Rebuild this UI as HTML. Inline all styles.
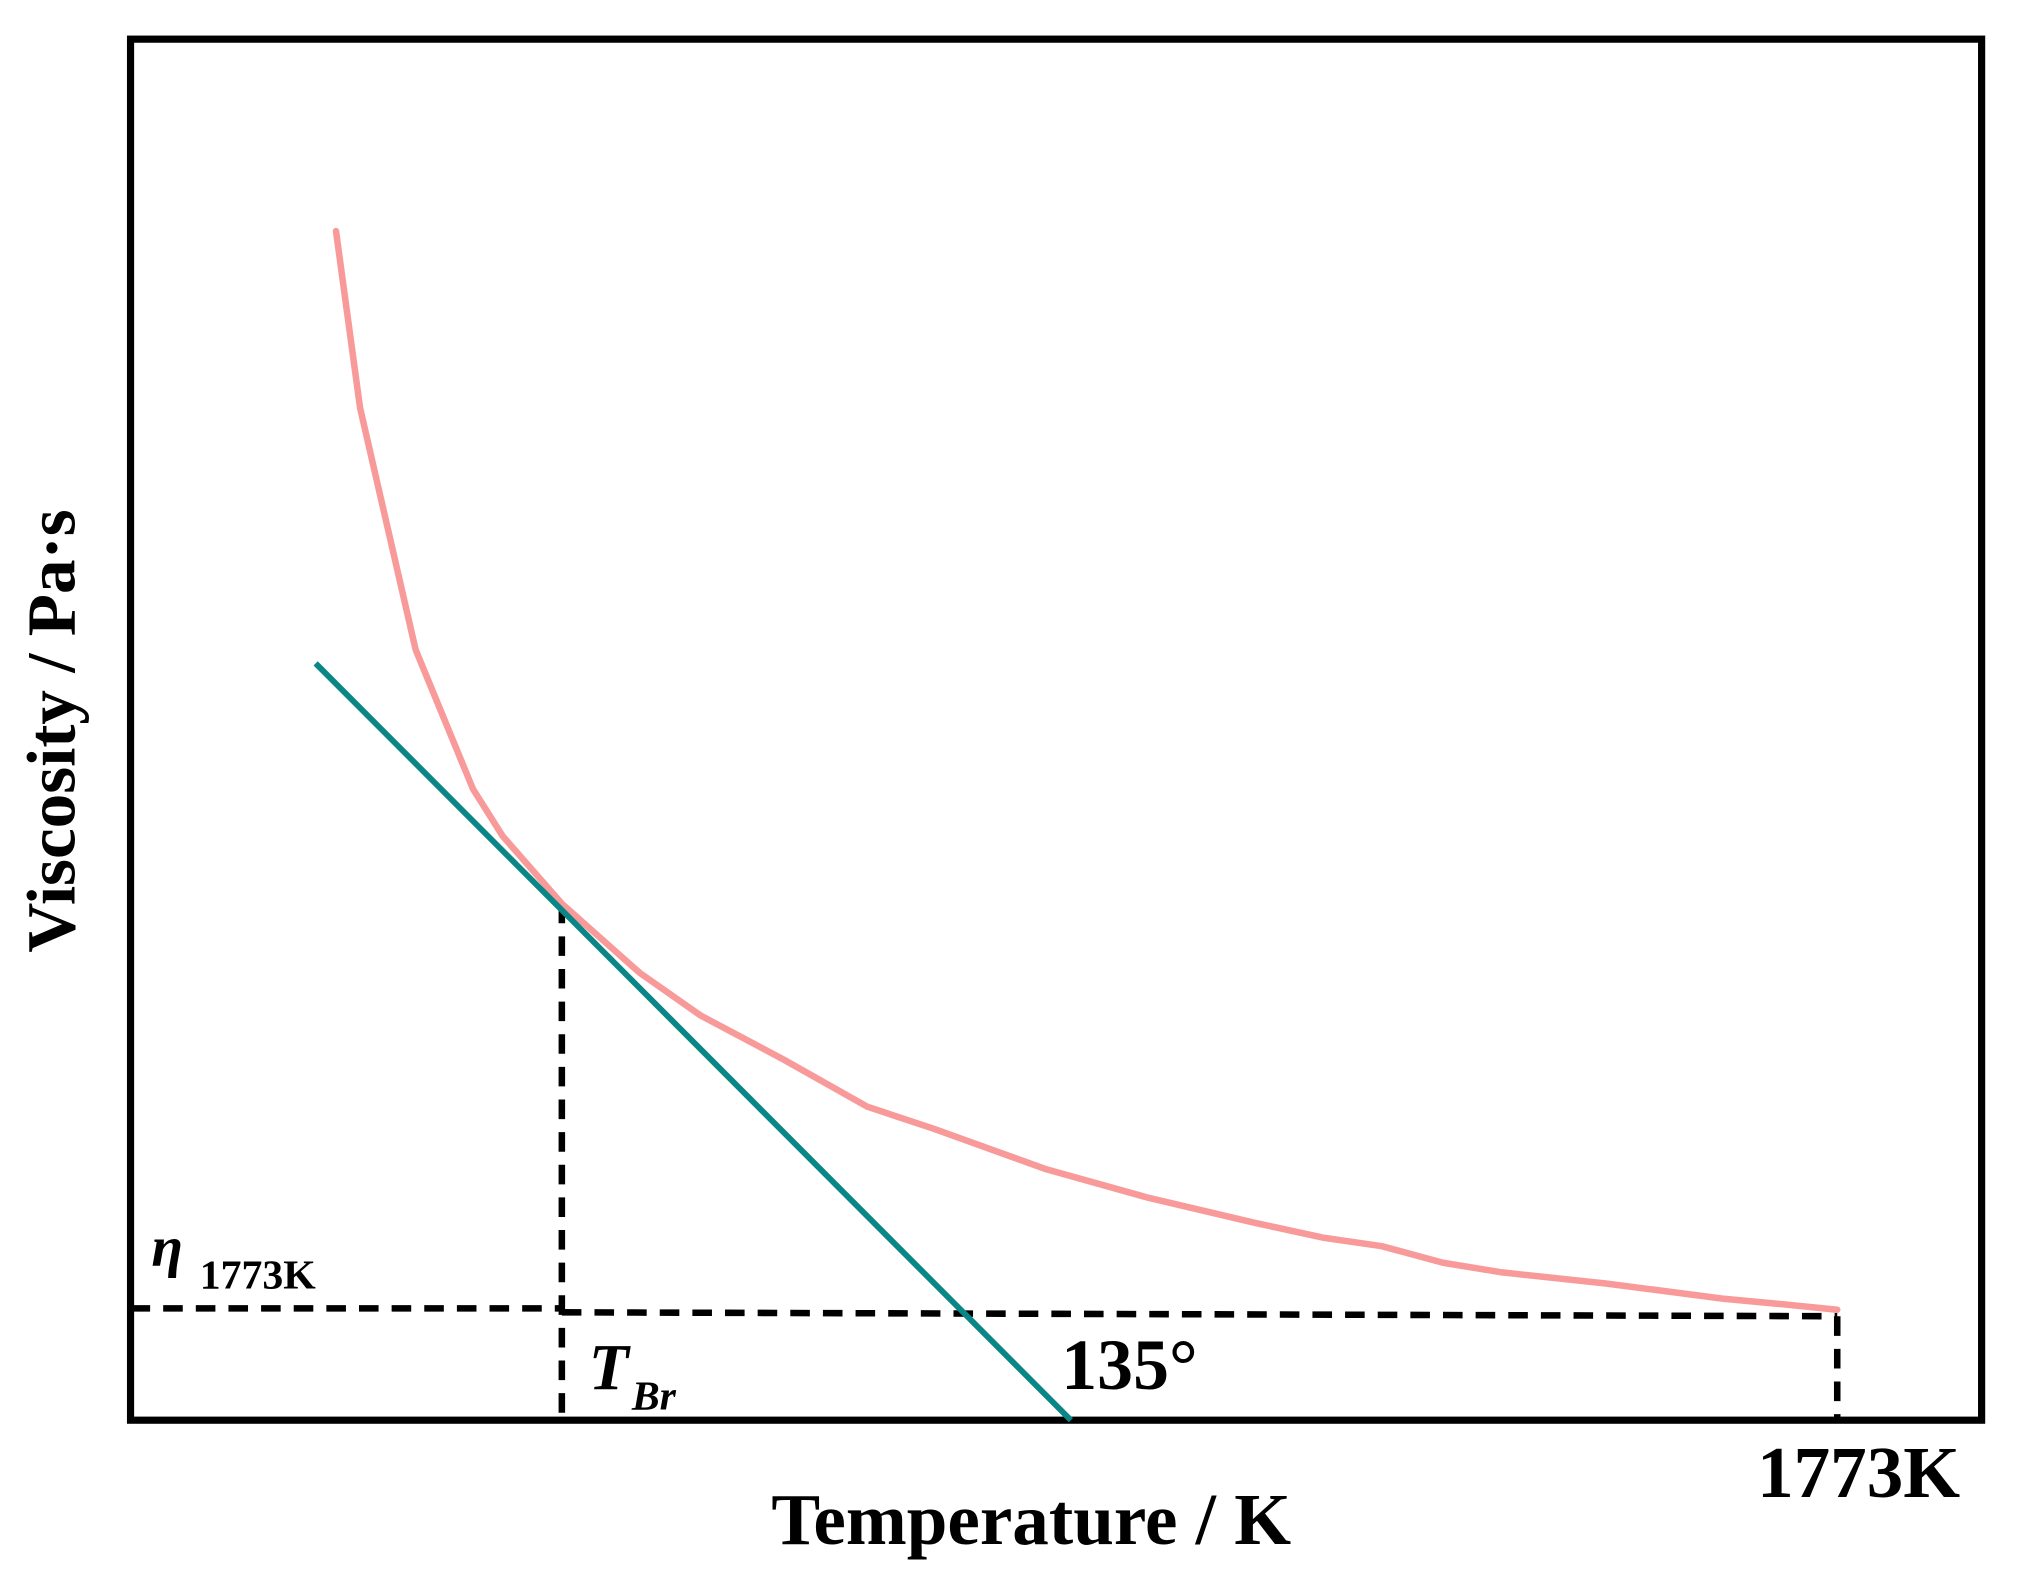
<!DOCTYPE html>
<html><head><meta charset="utf-8"><style>
html,body{margin:0;padding:0;background:#fff;}
svg{display:block;}
text{font-family:"Liberation Serif",serif;fill:#000;}
</style></head><body>
<svg id="chart" width="2026" height="1569" viewBox="0 0 1552 1202" preserveAspectRatio="none" xmlns="http://www.w3.org/2000/svg">
<rect x="100" y="30" width="1418" height="1058" fill="none" stroke="#000" stroke-width="5.5"/>
<g id="marks"></g>
<text x="116" y="970" font-size="44" font-style="italic" font-weight="bold">η</text>
<text x="153" y="987" font-size="32" font-weight="bold">1773K</text>
<text x="451" y="1064" font-size="50" font-style="italic" font-weight="bold">T</text>
<text x="484" y="1080" font-size="32" font-style="italic" font-weight="bold">Br</text>
<text x="813" y="1064" font-size="55" font-weight="bold">135°</text>
<text x="1346" y="1147" font-size="56" font-weight="bold">1773K</text>
<text x="790" y="1183" font-size="56" font-weight="bold" text-anchor="middle">Temperature / K</text>
<text transform="translate(57,560) rotate(-90)" font-size="53" font-weight="bold" text-anchor="middle">Viscosity / Pa·s</text>
</svg>
<script>
const temps = [111,124,154,185,201,233,275,308,353,398,434,494,550,607,645,676,709,741,797,860,892,922];
const viscosity = [861,733,558,457,423,374,324,293,261,227,211,182,161,143,132,126,114,107,99,88,84,80];
const tangentT = [100,508];
const tangentV = [548,0];
const brittleT = 233;
const brittleV = 374;
const endT = 922;
const endV = 80;

const xScale = t => 100 + t * 1.418;
const yScale = v => 1088 - v * 1.058;
const NS = "http://www.w3.org/2000/svg";
const g = document.getElementById('marks');
function mk(tag, attrs){const e=document.createElementNS(NS,tag);for(const k in attrs)e.setAttribute(k,attrs[k]);g.appendChild(e);return e;}

const dash = {stroke:'#000','stroke-width':5,'stroke-dasharray':'15 10',fill:'none'};
const h1 = mk('line',Object.assign({x1:xScale(0),y1:yScale(endV)-1,x2:xScale(brittleT),y2:yScale(endV)-1},dash));


const h2 = mk('line',Object.assign({x1:xScale(brittleT),y1:yScale(endV)+2,x2:xScale(endT),y2:yScale(endV)+5},dash));


const v1 = mk('line',Object.assign({x1:xScale(brittleT),y1:yScale(brittleV),x2:xScale(brittleT),y2:yScale(0)},dash));


const v2 = mk('line',Object.assign({x1:xScale(endT),y1:yScale(endV)+5,x2:xScale(endT),y2:yScale(0)},dash));



const curve = mk('polyline',{points:temps.map((t,i)=>xScale(t)+','+yScale(viscosity[i])).join(' '),fill:'none',stroke:'#f99a9a','stroke-width':5,'stroke-linejoin':'round','stroke-linecap':'round'});



const tan = mk('line',{x1:xScale(tangentT[0]),y1:yScale(tangentV[0]),x2:xScale(tangentT[1]),y2:yScale(tangentV[1]),stroke:'#0a8686','stroke-width':4.5});


</script>
</body></html>
